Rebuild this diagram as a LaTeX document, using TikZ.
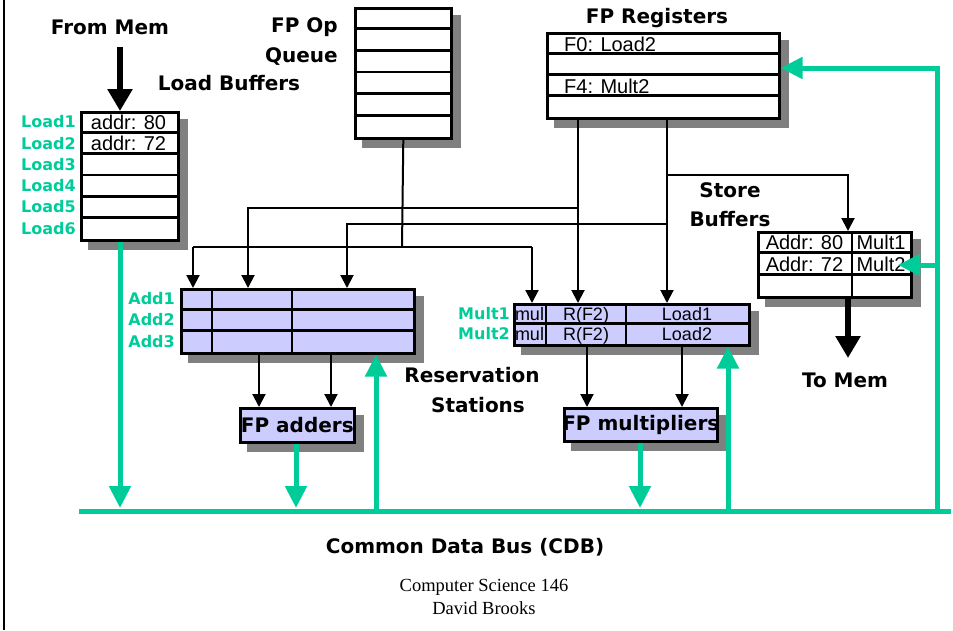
\documentclass[tikz,border=0pt]{standalone}
\usepackage{fontspec}
\setmainfont{Liberation Serif}
\newfontfamily\arialf{Liberation Sans}
\newfontfamily\comicf{DejaVu Sans}
\usetikzlibrary{arrows.meta,calc,backgrounds}
\definecolor{cdb}{RGB}{0,204,153}
\definecolor{lav}{RGB}{204,204,255}
\definecolor{shad}{RGB}{128,128,128}
\begin{document}
\begin{tikzpicture}[x=1pt,y=-1pt,
 box/.style={draw,line width=2.6pt,inner sep=0,anchor=north west,fill=white},
 rsbox/.style={box,fill=lav},
 title/.style={font=\comicf\bfseries\fontsize{20}{22}\selectfont,inner sep=0},
 tag/.style={font=\comicf\bfseries\fontsize{16}{18}\selectfont,text=cdb,inner sep=0,anchor=east},
 cell/.style={font=\arialf\fontsize{20}{22}\selectfont,inner sep=0},
 smallcell/.style={font=\arialf\fontsize{18}{20}\selectfont,inner sep=0},
 foot/.style={font=\fontsize{18.5}{21}\selectfont,inner sep=0},
 conn/.style={line width=2pt,-{Triangle[width=13pt,length=13pt]}},
 wire/.style={line width=2pt},
 fat/.style={line width=6pt,-{Triangle[width=24pt,length=22pt]}},
 bus/.style={cdb,line width=5pt},
 busarr/.style={bus,-{Triangle[width=21pt,length=22pt]}},
 sep/.style={line width=2.6pt},
]
\useasboundingbox (0,0) rectangle (953,630);
\draw[line width=2pt] (4,0) -- (4,630);

% boxes
\node[box,minimum width=97pt,minimum height=128pt] (lb) at (80,111) {};
\node[box,minimum width=96pt,minimum height=130pt] (q) at (354,7) {};
\node[box,minimum width=232pt,minimum height=85pt] (reg) at (546,32) {};
\node[box,minimum width=153pt,minimum height=65pt] (sb) at (757,231) {};
\node[rsbox,minimum width=233pt,minimum height=64pt] (add) at (180,288) {};
\node[rsbox,minimum width=235pt,minimum height=41pt] (mul) at (513,303) {};
\node[rsbox,minimum width=114pt,minimum height=34pt] (fpa) at (239,407) {};
\node[rsbox,minimum width=153pt,minimum height=33pt] (fpm) at (563,407) {};

\begin{pgfonlayer}{background}
\fill[white] (0,0) rectangle (953,630);
\foreach \n in {lb,q,reg,sb,add,mul,fpa,fpm}
  \fill[shad] ($(\n.north west)+(8,8)$) rectangle ($(\n.south east)+(8,8)$);
\end{pgfonlayer}

% internal separators
\foreach \yy in {132.3,153.7,175,196.3,217.7} \draw[sep] (80,\yy) -- (177,\yy);
\foreach \yy in {28.7,50.3,72,93.7,115.3} \draw[sep] (354,\yy) -- (450,\yy);
\foreach \yy in {53.25,74.5,95.75} \draw[sep] (546,\yy) -- (778,\yy);
\foreach \yy in {252.7,274.3} \draw[sep] (757,\yy) -- (910,\yy);
\draw[sep] (852,231) -- (852,296);
\foreach \yy in {309.3,330.7} \draw[sep] (180,\yy) -- (413,\yy);
\foreach \xx in {212,292} \draw[sep] (\xx,288) -- (\xx,352);
\draw[sep] (513,323.5) -- (748,323.5);
\foreach \xx in {546,626} \draw[sep] (\xx,303) -- (\xx,344);

% cell texts
\node[cell] (l1t) at (128.5,122) {addr: 80};
\node[cell] (l2t) at (128.5,143.3) {addr: 72};
\node[cell,anchor=base west] (f0) at (564,51) {F0: Load2};
\node[cell,anchor=base west] (f4) at (564,93) {F4: Mult2};
\node[cell] (s1a) at (804.5,242.3) {Addr: 80};
\node[cell] (s1b) at (881,242.3) {Mult1};
\node[cell] (s2a) at (804.5,264) {Addr: 72};
\node[cell] (s2b) at (881,264) {Mult2};
\node[smallcell,anchor=base] (m1a) at (529.5,320) {mul};
\node[smallcell,anchor=base] (m1b) at (586,320) {R(F2)};
\node[smallcell,anchor=base] (m1c) at (687,320) {Load1};
\node[smallcell,anchor=base] (m2a) at (529.5,340.5) {mul};
\node[smallcell,anchor=base] (m2b) at (586,340.5) {R(F2)};
\node[smallcell,anchor=base] (m2c) at (687,340.5) {Load2};
\node[title] (fpat) at (fpa.center) {FP adders};
\node[title] (fpmt) at (fpm.center) {FP multipliers};

% green tags
\foreach \i in {1,...,6} \node[tag] (ld\i) at (76,{121.7+21.33*(\i-1)}) {Load\i};
\foreach \i in {1,2,3} \node[tag] (ad\i) at (175,{298.7+21.3*(\i-1)}) {Add\i};
\node[tag] (mu1) at (510,313.5) {Mult1};
\node[tag] (mu2) at (510,334) {Mult2};

% titles
\node[title] (tfm) at (110,27) {From Mem};
\node[title,anchor=east] (tfp) at (338,27) {FP Op};
\node[title,anchor=east] (tqu) at (338,57) {Queue};
\node[title] (tlb) at (229,83) {Load Buffers};
\node[title] (treg) at (657,18) {FP Registers};
\node[title] (tst) at (730,190) {Store};
\node[title] (tbf) at (730,219) {Buffers};
\node[title] (ttm) at (845,380) {To Mem};
\node[title] (trs) at (472,375) {Reservation};
\node[title] (tsta) at (478,405) {Stations};
\node[title] (tcdb) at (465,547) {Common Data Bus (CDB)};
\node[foot] (ft1) at (484,587) {Computer Science 146};
\node[foot] (ft2) at (484,608) {David Brooks};

% black connectors
\coordinate (fmTop) at (120,47);
\draw[fat] (fmTop) -- (fmTop |- lb.north);
\coordinate (qx) at (402,247);
\draw[wire] (q.south) -- (qx);
\coordinate (hL) at (193,247);
\coordinate (hR) at (532,247);
\draw[wire] (hL) -- (hR);
\draw[conn] (hL) -- (hL |- add.north);
\draw[conn] (hR) -- (hR |- mul.north);
\coordinate (ra) at (578,0);
\coordinate (rb) at (667,0);
\draw[conn] (ra |- reg.south) -- (ra |- mul.north);
\draw[conn] (rb |- reg.south) -- (rb |- mul.north);
\coordinate (j1) at (578,208); \coordinate (k1) at (248,208);
\draw[conn] (j1) -- (k1) -- (k1 |- add.north);
\coordinate (j2) at (667,224); \coordinate (k2) at (347,224);
\draw[conn] (j2) -- (k2) -- (k2 |- add.north);
\coordinate (j3) at (667,175); \coordinate (k3) at (848,175);
\draw[conn] (j3) -- (k3) -- (k3 |- sb.north);
\coordinate (tm) at (848,358);
\draw[fat] (tm |- sb.south) -- (tm);
\coordinate (a1) at (259,0); \coordinate (a2) at (331,0);
\draw[conn] (a1 |- add.south) -- (a1 |- fpa.north);
\draw[conn] (a2 |- add.south) -- (a2 |- fpa.north);
\coordinate (mm1) at (587,0); \coordinate (mm2) at (682,0);
\draw[conn] (mm1 |- mul.south) -- (mm1 |- fpm.north);
\draw[conn] (mm2 |- mul.south) -- (mm2 |- fpm.north);

% common data bus
\coordinate (busL) at (79,511); \coordinate (busR) at (951,511);
\draw[bus] (busL) -- (busR);
\coordinate (g1) at (120,508); \draw[busarr] (g1 |- lb.south) -- (g1);
\coordinate (g2) at (296,508); \draw[busarr] (g2 |- fpa.south) -- (g2);
\coordinate (g3) at (376,511); \draw[busarr] (g3) -- (g3 |- add.south);
\coordinate (g4) at (640,508); \draw[busarr] (g4 |- fpm.south) -- (g4);
\coordinate (g5) at (728,511); \draw[busarr] (g5) -- (g5 |- mul.south);
\coordinate (g6) at (937,511); \coordinate (g6t) at (937,68);
\draw[busarr] (g6) -- (g6t) -- (g6t -| reg.east);
\coordinate (g7) at (937,265); \coordinate (sbtip) at (898,265);
\draw[busarr] (g7) -- (sbtip);
\end{tikzpicture}
\end{document}
